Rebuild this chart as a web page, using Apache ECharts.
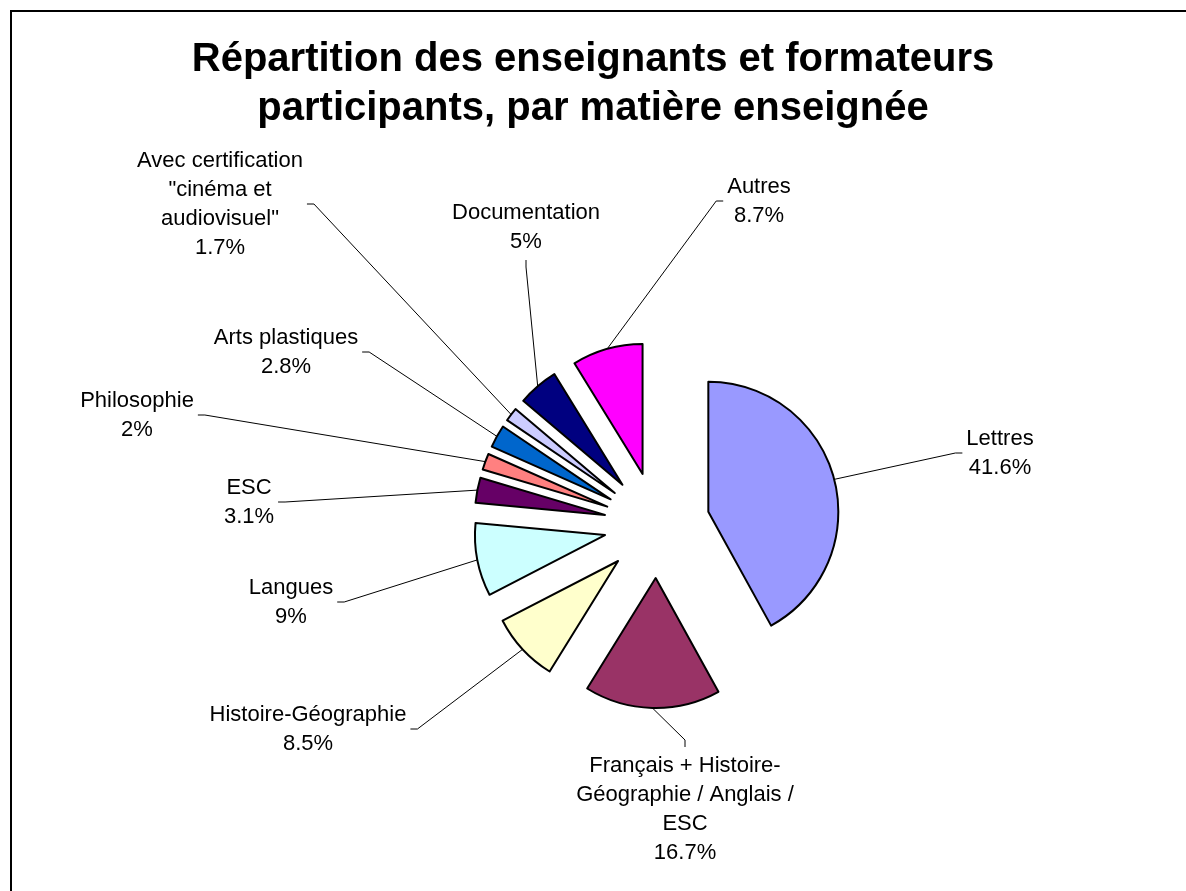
<!DOCTYPE html>
<html lang="fr">
<head>
  <meta charset="UTF-8">
  <title>Répartition des enseignants et formateurs participants</title>
  <script src="https://cdn.jsdelivr.net/npm/echarts@6/dist/echarts.min.js"></script>
  <style>html, body { margin: 0; padding: 0; background: #fff; }</style>
</head>
<body>

  <div id="main" style="width: 1186px;height:891px;"></div>

  <script type="text/javascript">
    // Subjects, clockwise from 12 o'clock
    const subjects = [
      'Lettres',
      'Français + Histoire-\nGéographie / Anglais /\nESC',
      'Histoire-Géographie',
      'Langues',
      'ESC',
      'Philosophie',
      'Arts plastiques',
      'Avec certification\n"cinéma et\naudiovisuel"',
      'Documentation',
      'Autres'
    ];
    const shares = [41.6, 16.7, 8.5, 9, 3.1, 2, 2.8, 1.7, 5, 8.7];
    const colors = ['#9999FF', '#993366', '#FFFFCC', '#CCFFFF', '#660066',
                    '#FF8080', '#0066CC', '#CCCCFF', '#000080', '#FF00FF'];

    // Where each label block sits, and which side its leader line meets
    const labelCenters = [
      [1000, 453], [685, 809], [308, 729], [291, 602], [249, 502],
      [137, 415], [286, 352], [220, 204], [526, 227], [759, 201]
    ];
    const lineSides = ['l', 't', 'r', 'r', 'r', 'r', 'r', 'r', 'b', 'l'];

    const pieCenter = [657, 525];
    const pieRadius = 130;
    const explode = 53;
    const font = 'Liberation Sans, Arial, sans-serif';

    let myChart = echarts.init(document.getElementById('main'));

    let options = {
      backgroundColor: '#fff',
      animation: false,
      title: {
        text: 'Répartition des enseignants et formateurs\nparticipants, par matière enseignée',
        left: 'center',
        top: 35,
        padding: 0,
        textStyle: {
          fontFamily: font,
          fontSize: 40,
          fontWeight: 'bold',
          lineHeight: 49,
          color: '#000'
        }
      },
      graphic: [{
        type: 'rect',
        shape: { x: 11, y: 11, width: 1400, height: 1000 },
        style: { fill: 'none', stroke: '#000', lineWidth: 2 },
        silent: true
      }],
      series: [
        {
          // exploded slices
          type: 'pie',
          center: pieCenter,
          radius: pieRadius,
          startAngle: 90,
          clockwise: true,
          selectedMode: 'multiple',
          selectedOffset: explode,
          silent: true,
          emphasis: { disabled: true },
          itemStyle: { borderColor: '#000', borderWidth: 2 },
          label: { show: false },
          labelLine: { show: false },
          data: subjects.map((name, i) => ({
            name: name,
            value: shares[i],
            selected: true,
            itemStyle: { color: colors[i] }
          }))
        },
        {
          // invisible ring at the exploded outer edge, carrying the labels
          type: 'pie',
          center: pieCenter,
          radius: pieRadius + explode,
          startAngle: 90,
          clockwise: true,
          silent: true,
          z: 3,
          avoidLabelOverlap: false,
          emphasis: { disabled: true },
          itemStyle: { color: 'rgba(0,0,0,0)', borderWidth: 0 },
          label: {
            show: true,
            position: 'outside',
            formatter: '{b}\n{c}%',
            color: '#000',
            fontFamily: font,
            fontSize: 22,
            lineHeight: 29,
            align: 'center'
          },
          labelLine: {
            show: true,
            length: 5,
            length2: 5,
            lineStyle: { color: '#000', width: 1 }
          },
          labelLayout: function (params) {
            const i = params.dataIndex;
            const c = labelCenters[i];
            const w = params.labelRect.width;
            const h = params.labelRect.height;
            let end, elbow;
            if (lineSides[i] === 'l') {
              end = [c[0] - w / 2 - 4, c[1]]; elbow = [end[0] - 7, end[1]];
            } else if (lineSides[i] === 'r') {
              end = [c[0] + w / 2 + 4, c[1]]; elbow = [end[0] + 7, end[1]];
            } else if (lineSides[i] === 't') {
              end = [c[0], c[1] - h / 2 - 4]; elbow = [end[0], end[1] - 7];
            } else {
              end = [c[0], c[1] + h / 2 + 4]; elbow = [end[0], end[1] + 7];
            }
            return {
              x: c[0],
              y: c[1],
              align: 'center',
              verticalAlign: 'middle',
              labelLinePoints: [params.labelLinePoints[0], elbow, end]
            };
          },
          data: subjects.map((name, i) => ({ name: name, value: shares[i] }))
        }
      ]
    };

    myChart.setOption(options);
  </script>
</body>
</html>
